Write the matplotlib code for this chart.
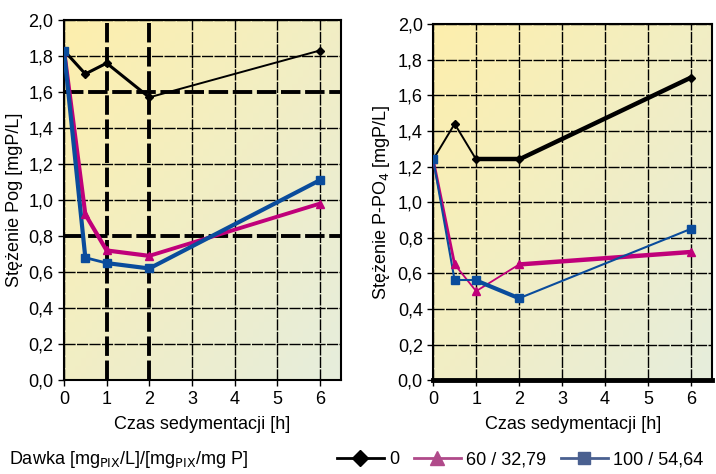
import numpy as np
import matplotlib.pyplot as plt
from matplotlib.lines import Line2D

plt.rcParams['font.family'] = ['Liberation Sans', 'DejaVu Sans']

czas = [0, 0.5, 1, 2, 6]

# Pog
pog_0 = [1.83, 1.70, 1.76, 1.57, 1.83]
pog_60 = [1.83, 0.92, 0.72, 0.69, 0.98]
pog_100 = [1.83, 0.68, 0.65, 0.62, 1.11]

# P-PO4
po4_0 = [1.24, 1.44, 1.24, 1.24, 1.70]
po4_60 = [1.24, 0.65, 0.50, 0.65, 0.72]
po4_100 = [1.24, 0.56, 0.56, 0.46, 0.85]

labels = ['0', '60 / 32,79', '100 / 54,64']
yticks = np.arange(0, 2.01, 0.2)
xticks = [0, 1, 2, 3, 4, 5, 6]

c_black = '#000000'
c_mag = '#c0007a'
c_blue = '#0a4c9c'


def gradient_bg(ax):
    g = np.zeros((50, 50, 3))
    xx, yy = np.meshgrid(np.linspace(0, 1, 50), np.linspace(0, 1, 50))
    t = (xx + yy) / 2
    top = np.array([0xfd, 0xef, 0xad]) / 255
    bot = np.array([0xe6, 0xed, 0xdc]) / 255
    for k in range(3):
        g[:, :, k] = top[k] * (1 - t) + bot[k] * t
    # row 0 at the top of the axes -> yellow top-left corner
    ax.imshow(g, extent=[0, 6.5, 0, 2.0], origin='upper', aspect='auto', zorder=0)


def seg_line(ax, x, y, color, widths, marker, ms):
    for i in range(len(x) - 1):
        ax.plot(x[i:i + 2], y[i:i + 2], color=color, lw=widths[i], zorder=4,
                solid_capstyle='round')
    ax.plot(x, y, ls='none', marker=marker, color=color, ms=ms, zorder=5)


def style(ax, heavy_x, heavy_y, ylabel):
    gradient_bg(ax)
    ax.set_xlim(0, 6.5)
    ax.set_ylim(0, 2.0)
    for xv in xticks:
        if xv in heavy_x:
            ax.axvline(xv, color='black', lw=2.8, ls=(0, (5, 1.2)), zorder=2)
        else:
            ax.axvline(xv, color='black', lw=1.0, ls=(0, (8, 1)), zorder=2)
    for yv in yticks:
        if any(abs(yv - h) < 1e-6 for h in heavy_y):
            ax.axhline(yv, color='black', lw=2.8, ls=(0, (5, 1.2)), zorder=2)
        else:
            ax.axhline(yv, color='black', lw=1.0, ls=(0, (8, 1)), zorder=2)
    ax.set_xticks(xticks)
    ax.set_yticks(yticks)
    ax.set_yticklabels([f'{v:.1f}'.replace('.', ',') for v in yticks])
    ax.tick_params(labelsize=13, direction='out', length=4, width=1)
    for s in ax.spines.values():
        s.set_linewidth(1.5)
    ax.set_xlabel('Czas sedymentacji [h]', fontsize=13, labelpad=6)
    ax.set_ylabel(ylabel, fontsize=13, labelpad=4)


fig = plt.figure(figsize=(7.16, 4.74), dpi=100)
ax1 = fig.add_axes([0.0894, 0.198, 0.387, 0.760])
ax2 = fig.add_axes([0.605, 0.198, 0.390, 0.751])

style(ax1, [1, 2], [0.8, 1.6], 'Stężenie Pog [mgP/L]')
style(ax2, [], [], 'Stężenie P-PO$_4$ [mgP/L]')
ax2.spines['bottom'].set_linewidth(3.5)

seg_line(ax1, czas, pog_0, c_black, [2.2, 2.2, 2.2, 1.4], 'D', 4)
seg_line(ax1, czas, pog_60, c_mag, [3, 3, 3, 2.8], '^', 6)
seg_line(ax1, czas, pog_100, c_blue, [3, 2, 3, 3], 's', 6)

seg_line(ax2, czas, po4_0, c_black, [1.4, 1.4, 3.2, 3.2], 'D', 4)
seg_line(ax2, czas, po4_60, c_mag, [2, 1.3, 1.3, 3.2], '^', 6)
seg_line(ax2, czas, po4_100, c_blue, [1.5, 1.5, 3, 1.5], 's', 6)

fig.text(0.012, 0.030, 'Dawka [mg$_{\\mathrm{PIX}}$/L]/[mg$_{\\mathrm{PIX}}$/mg P]',
         fontsize=13, va='center')
handles = [
    Line2D([], [], color='black', lw=2, marker='D', ms=8),
    Line2D([], [], color='#b04a8a', lw=2, marker='^', ms=10),
    Line2D([], [], color='#4a6090', lw=2, marker='s', ms=8),
]
fig.legend(handles, labels, loc='center right', bbox_to_anchor=(1.005, 0.030),
           ncol=3, frameon=False, fontsize=13, handlelength=2.6,
           handletextpad=0.3, columnspacing=0.8)

fig.savefig('out.png', dpi=100)
